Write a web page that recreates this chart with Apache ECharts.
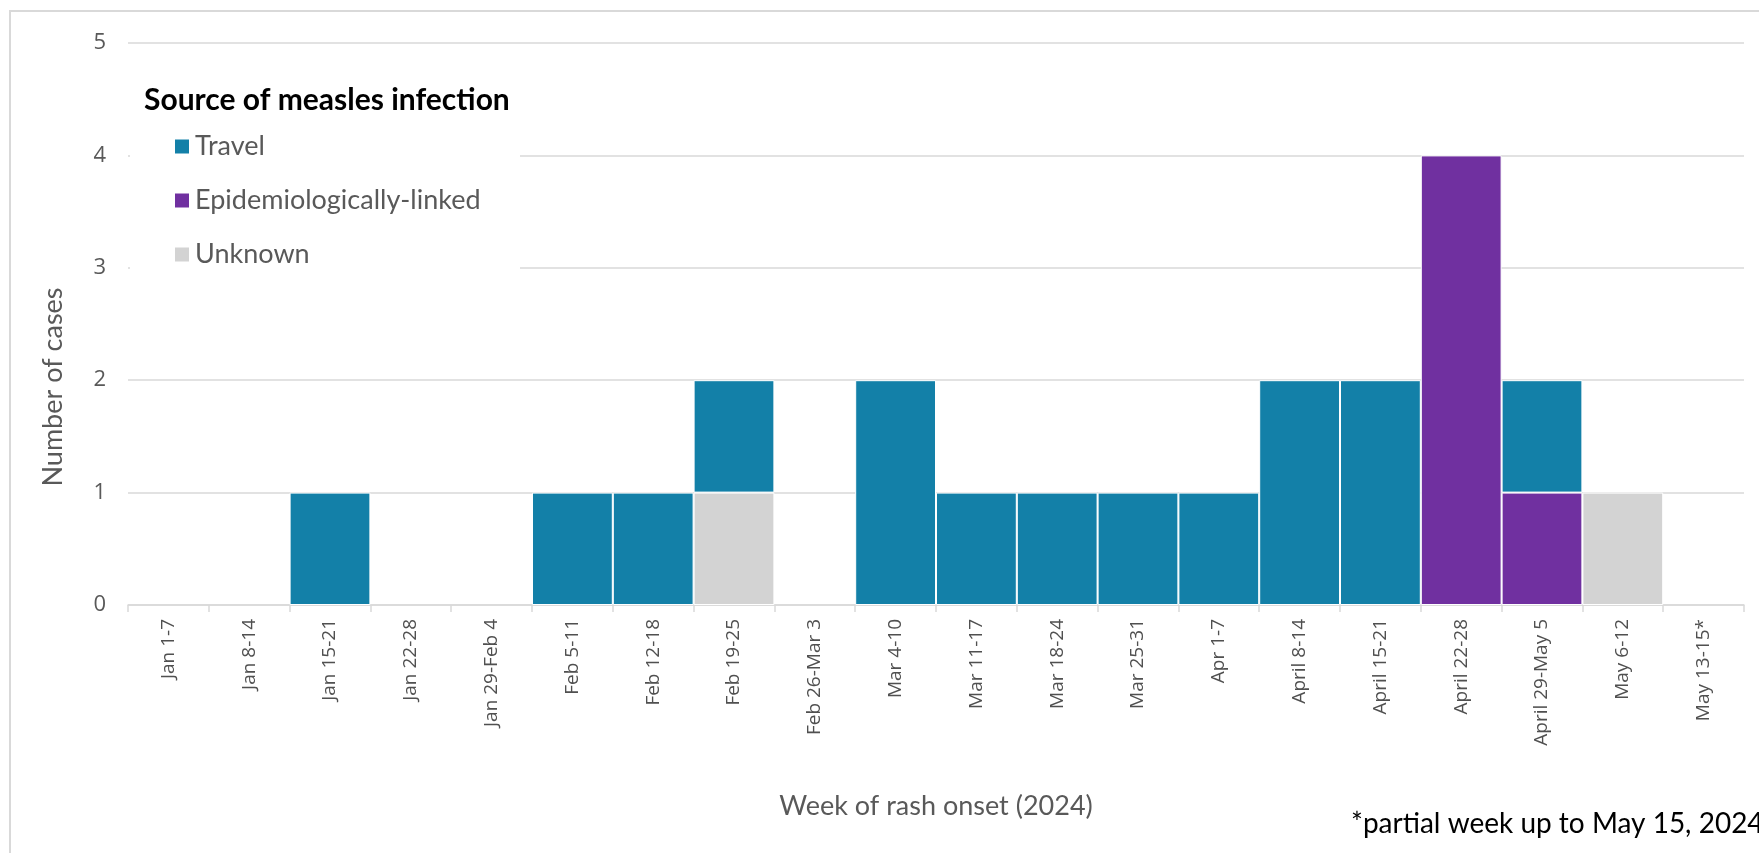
<!DOCTYPE html>
<html>
<head>
<meta charset="utf-8">
<script src="https://cdn.jsdelivr.net/npm/echarts@6/dist/echarts.min.js"></script>
<style>
  html, body { margin: 0; padding: 0; background: #fff; }
  #chart { width: 1759px; height: 853px; }
</style>
</head>
<body>
<div id="chart"></div>
<script>
// weeks of rash onset
var weeks = ['Jan 1-7', 'Jan 8-14', 'Jan 15-21', 'Jan 22-28', 'Jan 29-Feb 4', 'Feb 5-11',
  'Feb 12-18', 'Feb 19-25', 'Feb 26-Mar 3', 'Mar 4-10', 'Mar 11-17', 'Mar 18-24',
  'Mar 25-31', 'Apr 1-7', 'April 8-14', 'April 15-21', 'April 22-28', 'April 29-May 5',
  'May 6-12', 'May 13-15*'];
var travel  = [0, 0, 1, 0, 0, 1, 1, 1, 0, 2, 1, 1, 1, 1, 2, 2, 0, 1, 0, 0];
var epiLinked = [0, 0, 0, 0, 0, 0, 0, 0, 0, 0, 0, 0, 0, 0, 0, 0, 4, 1, 0, 0];
var unknown = [0, 0, 0, 0, 0, 0, 0, 1, 0, 0, 0, 0, 0, 0, 0, 0, 0, 0, 1, 0];
var yTicks = [0, 1, 2, 3, 4, 5];

var grey = '#595959';
var gridGrey = '#d9d9d9';

// zero weeks draw nothing
function noZero(arr) {
  return arr.map(function (v) { return v === 0 ? '-' : v; });
}

function barSeries(name, data, color) {
  return {
    name: name,
    type: 'bar',
    stack: 'cases',
    barCategoryGap: '0%',
    data: noZero(data),
    itemStyle: { color: color, borderColor: '#fff', borderWidth: 1 }
  };
}

var option = {
  animation: false,
  backgroundColor: '#fff',
  grid: { left: 128, right: 15, top: 43, bottom: 248 },
  title: {
    text: 'Source of measles infection',
    left: 139,
    top: 80,
    z: 8,
    textStyle: { fontFamily: 'Lato', fontWeight: 'bold', fontSize: 30, color: '#000' }
  },
  legend: {
    orient: 'vertical',
    left: 168,
    top: 128,
    z: 8,
    itemWidth: 16,
    itemHeight: 16,
    itemGap: 27,
    icon: 'rect',
    data: ['Travel', 'Epidemiologically-linked', 'Unknown'],
    textStyle: { fontFamily: 'Lato', fontSize: 27, color: grey }
  },
  xAxis: {
    type: 'category',
    data: weeks,
    name: 'Week of rash onset (2024)',
    nameLocation: 'middle',
    nameGap: 188,
    nameTextStyle: { fontFamily: 'Lato', fontSize: 27, color: grey },
    axisLine: { lineStyle: { color: gridGrey, width: 1.5 } },
    axisTick: { show: true, length: 7, lineStyle: { color: gridGrey, width: 1.5 } },
    axisLabel: {
      rotate: 90,
      interval: 0,
      margin: 14,
      fontFamily: 'Open Sans',
      fontSize: 19,
      color: '#505050'
    }
  },
  yAxis: {
    type: 'value',
    min: yTicks[0],
    max: yTicks[yTicks.length - 1],
    interval: 1,
    axisLine: { show: false },
    axisTick: { show: false },
    axisLabel: { fontFamily: 'Open Sans', fontSize: 22, color: grey, margin: 22 },
    splitLine: { lineStyle: { color: gridGrey, width: 1.5 } }
  },
  graphic: [
    {
      type: 'rect',
      z: -10,
      shape: { x: 10, y: 11, width: 1800, height: 900 },
      style: { fill: 'none', stroke: gridGrey, lineWidth: 2 }
    },
    {
      type: 'rect',
      z: 3,
      shape: { x: 130, y: 66, width: 390, height: 210 },
      style: { fill: '#fff' }
    },
    {
      // y axis title sits lower than the plot middle
      type: 'text',
      z: 10,
      x: 53,
      y: 387,
      rotation: Math.PI / 2,
      style: {
        text: 'Number of cases', font: '27px Lato', fill: grey,
        align: 'center', verticalAlign: 'middle'
      }
    },
    {
      type: 'text',
      z: 10,
      left: 1351,
      top: 810,
      style: { text: '*partial week up to May 15, 2024', font: '28px Lato', fill: '#000' }
    }
  ],
  series: [
    barSeries('Epidemiologically-linked', epiLinked, '#7030a0'),
    barSeries('Unknown', unknown, '#d3d3d3'),
    barSeries('Travel', travel, '#1380a8')
  ]
};

var chart = echarts.init(document.getElementById('chart'));
chart.setOption(option);
</script>
</body>
</html>
